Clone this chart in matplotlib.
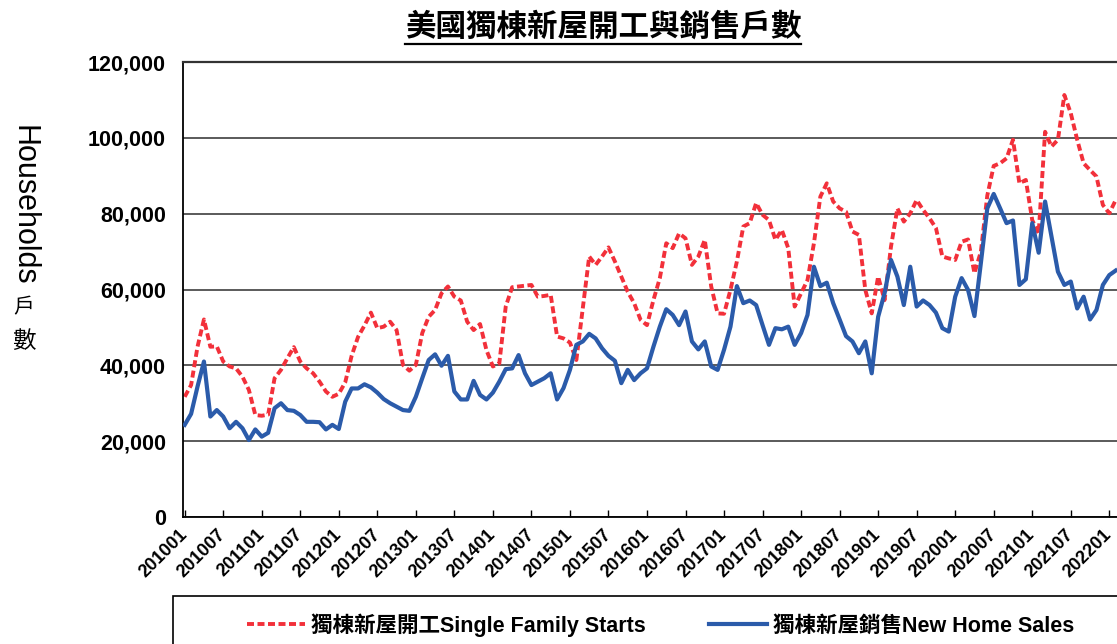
"""Single-family housing starts vs new home sales, monthly 2010-2022."""
import numpy as np
import matplotlib

matplotlib.use("Agg")
import matplotlib.pyplot as plt
from matplotlib import font_manager
from matplotlib.lines import Line2D
from matplotlib.patches import Rectangle
from matplotlib.font_manager import FontProperties

installed = {f.name for f in font_manager.fontManager.ttflist}
NARROW = "Liberation Sans Narrow" if "Liberation Sans Narrow" in installed else None
CJK = "Noto Sans CJK TC"

TITLE = "美國獨棟新屋開工與銷售戶數"
LABEL_STARTS = "獨棟新屋開工Single Family Starts"
LABEL_SALES = "獨棟新屋銷售New Home Sales"

# monthly categories 201001 .. 202202
months = [f"{y}{m:02d}" for y in range(2010, 2023) for m in range(1, 13)][:146]

# thousands of units
starts_k = [
    31.7, 34.8, 44.9, 52.1, 44.9, 45.0, 41.0, 39.7, 39.2, 37.0, 33.5, 26.9,
    26.7, 27.0, 36.6, 38.8, 41.9, 44.8, 41.0, 39.2, 37.9, 35.7, 33.1, 31.7,
    32.5, 35.5, 42.5, 47.5, 50.5, 53.9, 49.8, 50.2, 51.5, 49.3, 40.1, 38.6,
    40.1, 48.5, 52.8, 54.6, 59.0, 60.8, 58.1, 57.1, 51.5, 49.3, 50.9, 44.0,
    39.7, 40.5, 55.5, 60.6, 60.8, 61.0, 61.2, 58.1, 58.3, 58.6, 47.6, 47.1,
    46.0, 41.4, 55.0, 68.7, 66.5, 68.7, 71.1, 67.4, 63.4, 59.4, 56.4, 52.0,
    50.6, 57.2, 63.0, 72.2, 70.9, 74.8, 73.5, 66.5, 68.7, 73.1, 60.8, 53.7,
    53.6, 59.9, 67.4, 76.6, 77.5, 82.8, 79.7, 78.3, 73.1, 75.7, 70.9, 55.5,
    59.0, 62.5, 72.2, 84.5, 88.0, 83.2, 81.4, 80.5, 75.3, 74.4, 59.9, 53.7,
    63.4, 57.2, 71.3, 81.4, 77.9, 80.1, 83.6, 81.0, 78.8, 76.2, 68.7, 68.2,
    67.8, 72.6, 73.2, 64.3, 70.0, 84.8, 92.6, 93.3, 94.6, 99.5, 88.0, 88.9,
    78.3, 74.8, 101.6, 97.7, 99.5, 111.3, 106.5, 99.5, 93.3, 91.5, 89.8, 82.3,
    80.1, 83.6,
]
sales_k = [
    24.3, 27.2, 34.4, 41.0, 26.5, 28.2, 26.5, 23.4, 25.1, 23.4, 20.3, 23.1,
    21.2, 22.2, 28.7, 30.0, 28.2, 28.0, 26.9, 25.1, 25.1, 25.0, 23.1, 24.3,
    23.2, 30.4, 33.9, 33.9, 35.0, 34.2, 32.8, 31.1, 30.0, 29.1, 28.2, 28.0,
    31.7, 36.6, 41.4, 42.9, 39.9, 42.5, 33.1, 31.0, 31.0, 35.9, 32.2, 31.0,
    32.8, 35.7, 39.0, 39.2, 42.7, 37.9, 34.8, 35.7, 36.6, 37.9, 31.0, 34.0,
    38.8, 45.4, 46.3, 48.3, 47.1, 44.5, 42.5, 41.2, 35.3, 38.8, 36.1, 37.9,
    39.2, 44.9, 50.2, 54.8, 53.3, 50.6, 54.2, 46.3, 44.2, 46.3, 39.7, 38.8,
    44.1, 50.2, 60.9, 56.4, 57.1, 55.9, 50.6, 45.4, 49.8, 49.5, 50.2, 45.4,
    48.5, 53.3, 66.0, 60.9, 61.8, 56.4, 52.1, 47.7, 46.3, 43.2, 46.3, 37.9,
    52.8, 59.0, 67.8, 63.4, 55.9, 66.0, 55.5, 57.1, 55.9, 53.9, 49.8, 48.9,
    58.1, 63.0, 59.9, 53.0, 67.0, 81.4, 85.2, 81.4, 77.5, 78.2, 61.2, 62.7,
    77.5, 69.7, 83.2, 73.9, 64.7, 61.2, 62.1, 55.0, 58.1, 52.1, 54.6, 61.2,
    63.8, 65.0,
]
starts = np.array(starts_k) * 1000
sales = np.array(sales_k) * 1000
yticks = np.arange(0, 120001, 20000)

RED = "#F2303A"
BLUE = "#2B5BAA"
W, H = 1117, 644

fig = plt.figure(figsize=(W / 100, H / 100), dpi=100)
ax = fig.add_axes([182.5 / W, 1 - 517 / H, 1 - 182.5 / W, (517 - 62) / H])

x = np.arange(len(months))
l_starts, = ax.plot(x, starts, color=RED, lw=2.8, dashes=(1.8, 0.9), zorder=2)
l_sales, = ax.plot(x, sales, color=BLUE, lw=3.0, zorder=3, solid_joinstyle="round")

ax.set_xlim(-0.34, 145.2)
ax.set_ylim(0, 120000)
ax.set_yticks(yticks)
ax.set_yticklabels([f"{v:,}" for v in yticks], fontsize=15.5, fontweight="bold",
                   family="Liberation Sans")
ax.yaxis.grid(True, color="#5a5a5a", lw=1.4)
ax.set_axisbelow(True)
ax.tick_params(axis="y", length=0, pad=12)

tick_pos = x[::6]
ax.set_xticks(tick_pos)
if NARROW:
    xfont = dict(family=NARROW, fontsize=15, fontweight="bold")
else:
    xfont = dict(family="Liberation Sans", fontsize=13, fontweight="bold")
ax.set_xticklabels([months[i] for i in tick_pos], rotation=45, ha="right",
                   va="center", rotation_mode="anchor", **xfont)
ax.tick_params(axis="x", direction="in", length=5, width=1, pad=11)

ax.spines["right"].set_visible(False)
ax.spines["top"].set_color("#333333")
ax.spines["top"].set_linewidth(1.6)
for s in ("left", "bottom"):
    ax.spines[s].set_color("black")
    ax.spines[s].set_linewidth(1.3)

# title with underline
title = fig.text(603 / W, 1 - 27 / H, TITLE, fontsize=22, fontweight="bold",
                 family=CJK, ha="center", va="center")

# y axis label: latin part rotated, CJK stacked upright
fig.text(23 / W, 1 - 205 / H, "Households", rotation=-90, fontsize=22,
         family="Liberation Sans", ha="center", va="center")
fig.text(24 / W, 1 - 307 / H, "戶", fontsize=15, family=CJK, ha="center", va="center")
fig.text(24 / W, 1 - 341 / H, "數", fontsize=17, family=CJK, ha="center", va="center")

# legend box running off the bottom/right edge
fig.add_artist(Rectangle((172.7 / W, -0.1), 1.0, 0.1 + (644 - 596) / H,
                         transform=fig.transFigure, fill=False, ec="black", lw=1.2))
leg_font = FontProperties(family=["Liberation Sans", CJK], weight="bold", size=15.5)
fig.legend([l_starts, l_sales], [LABEL_STARTS, LABEL_SALES], loc="center left",
           bbox_to_anchor=(236 / W, 1 - 625 / H), ncol=2, frameon=False,
           handlelength=2.7, handletextpad=0.3, columnspacing=2.9, borderpad=0,
           prop=leg_font)

fig.canvas.draw()
bb = title.get_window_extent()
fig.add_artist(Line2D([bb.x0 / W, bb.x1 / W], [1 - 44 / H, 1 - 44 / H],
                      transform=fig.transFigure, color="black", lw=1.6))

fig.savefig("out.png", dpi=100)
